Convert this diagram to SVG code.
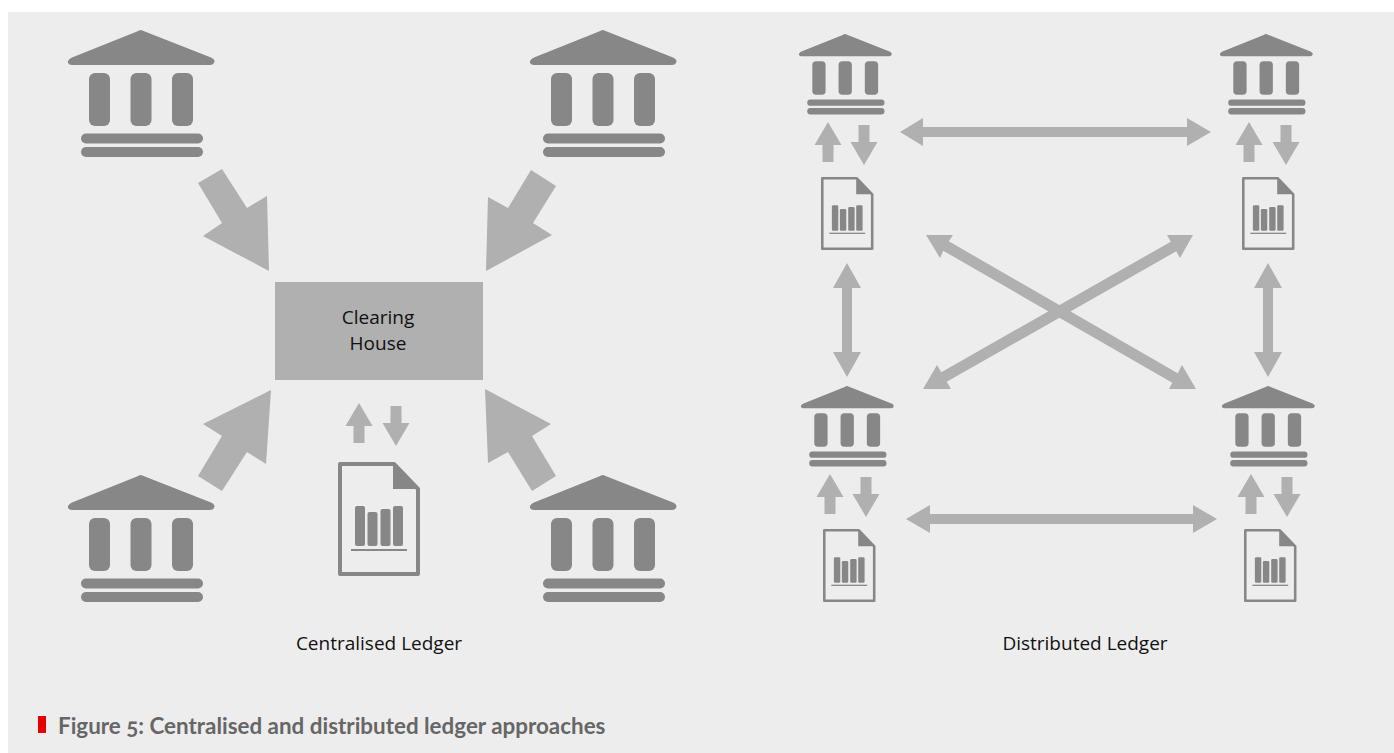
<svg xmlns="http://www.w3.org/2000/svg" width="1394" height="753" viewBox="0 0 1394 753">
<style>
.a{fill:#b0b0b0}
.i{fill:#878787}
.t{font-family:"Open Sans","Noto Sans",sans-serif;font-size:19px;fill:#111;text-anchor:middle}
.c{font-family:"Lato","Open Sans",sans-serif;font-size:22.400px;font-weight:700;fill:#666;font-variant-numeric:oldstyle-nums}
</style>
<defs>
<g id="bank">
<path class="i" d="M73 0 L143 27.500 Q148 30 146 33 Q145 35 142 35 L4 35 Q1 35 0 33 Q-1 30 4 27.500 L69 1.500 Q71 0 73 0Z"/>
<rect class="i" x="21" y="43" width="21" height="53" rx="6"/>
<rect class="i" x="62.500" y="43" width="21" height="53" rx="6"/>
<rect class="i" x="104" y="43" width="21" height="53" rx="6"/>
<rect class="i" x="13" y="103.500" width="122" height="10" rx="5"/>
<rect class="i" x="13" y="117" width="122" height="10" rx="5"/>
</g>
<g id="doc">
<path d="M2 2 H56 L80 27 V112 H2Z" fill="none" stroke="#878787" stroke-width="4" stroke-linejoin="round"/>
<path class="i" d="M55 2 L80 27 H55Z"/>
<rect class="i" x="17" y="44" width="10" height="40" rx="2"/>
<rect class="i" x="29.500" y="50" width="10" height="34" rx="2"/>
<rect class="i" x="42.500" y="47" width="10" height="37" rx="2"/>
<rect class="i" x="55" y="44" width="10" height="40" rx="2"/>
<rect class="i" x="13" y="87" width="56" height="2"/>
</g>
<path id="up" d="M0 0 L13.500 23 H5.500 V40 H-5.500 V23 H-13.500Z"/>
<path id="down" d="M0 0 L-13.500 -23 H-5.500 V-40 H5.500 V-23 H13.500Z"/>
</defs>
<rect x="8" y="12" width="1386" height="741" fill="#ededed"/>
<g id="connectors" class="a">
<path d="M198 183 L222 169 L247 208 L267 196 L269 271 L203 236 L222 223Z"/>
<path d="M556 186 L531 170 L508 208 L488 197 L486 271 L552 235 L533 223Z"/>
<path d="M198 476 L222 491 L247 452 L266 464 L271 390 L203 424 L222 436Z"/>
<path d="M556 476 L532 491 L508 452 L488 463 L485 389 L551 424 L532 436Z"/>
<use href="#up" x="359" y="403"/><use href="#down" x="396" y="446"/>
<use href="#up" x="828" y="122"/><use href="#down" x="864" y="165"/>
<use href="#up" x="1249" y="122"/><use href="#down" x="1286" y="165"/>
<use href="#up" x="830" y="474"/><use href="#down" x="866" y="517"/>
<use href="#up" x="1251" y="474"/><use href="#down" x="1287" y="517"/>
<path d="M900 132 L923 118 V127 H1187 V118 L1211 132 L1187 146 V137 H923 V146Z"/>
<path d="M906 519 L930 505 V514 H1193 V505 L1217 519 L1193 533 V524 H930 V533Z"/>
<path d="M847 263 L861 288 H852 V352 H861 L847 377 L833 352 H842 V288 H833Z"/>
<path d="M1268 263 L1282 288 H1273 V352 H1282 L1268 377 L1254 352 H1263 V288 H1254Z"/>
<path d="M926 235 L953 235 L948.750 241.250 L1177.750 373.250 L1182 365 L1196 389 L1169 389 L1172.250 382.750 L943.250 250.750 L940 258Z"/>
<path d="M1193 235 L1167 235 L1170.800 241.700 L941.300 372.200 L937 365 L923 389 L951 389 L946.700 381.800 L1176.200 251.300 L1180 258Z"/>
</g>
<g id="clearing-house">
<rect x="275" y="282" width="208" height="98" class="a"/>
<text class="t" x="378" y="324">Clearing</text>
<text class="t" x="378" y="350">House</text>
</g>
<g id="bank-1"><use href="#bank" transform="translate(68 30)"/></g>
<g id="bank-2"><use href="#bank" transform="translate(530 30)"/></g>
<g id="bank-3"><use href="#bank" transform="translate(68 475)"/></g>
<g id="bank-4"><use href="#bank" transform="translate(530 475)"/></g>
<g id="bank-5"><use href="#bank" transform="translate(799 34) scale(.633)"/></g>
<g id="bank-6"><use href="#bank" transform="translate(1220 34) scale(.633)"/></g>
<g id="bank-7"><use href="#bank" transform="translate(801 386) scale(.633)"/></g>
<g id="bank-8"><use href="#bank" transform="translate(1222 386) scale(.633)"/></g>
<g id="doc-1"><use href="#doc" transform="translate(338 462)"/></g>
<g id="doc-2"><use href="#doc" transform="translate(821 177) scale(.64)"/></g>
<g id="doc-3"><use href="#doc" transform="translate(1242 177) scale(.64)"/></g>
<g id="doc-4"><use href="#doc" transform="translate(823 529) scale(.64)"/></g>
<g id="doc-5"><use href="#doc" transform="translate(1244 529) scale(.64)"/></g>
<text class="t" x="379" y="650">Centralised Ledger</text>
<text class="t" x="1085" y="650">Distributed Ledger</text>
<rect id="caption-mark" x="38" y="716" width="8" height="17" fill="#e60000"/>
<text class="c" x="58" y="734">Figure 5: Centralised and distributed ledger approaches</text>
</svg>
